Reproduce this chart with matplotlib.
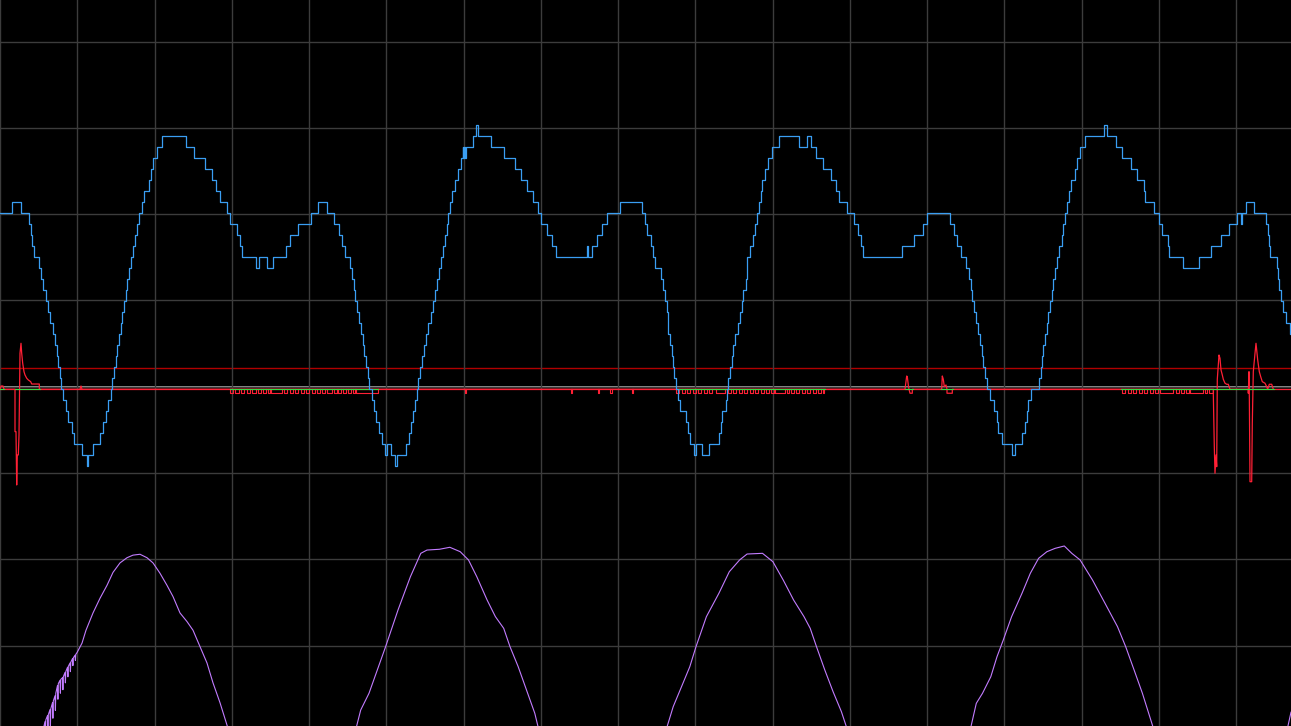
import numpy as np
import matplotlib
matplotlib.use("Agg")
import matplotlib.pyplot as plt

# ─── Scope settings ───────────────────────────────────────────────────────────
FS_KHZ        = 15.45        # samples per ms (screen is 1 sample per pixel)
MS_PER_DIV    = 5.0
N_SAMPLES     = 1291
Y_TOP, Y_BOT  = 4.482, -3.931   # visible range in divisions

BLUE_TOP      = 2.906        # position of blue code 0 (div)
BLUE_LSB      = 0.1275       # one quantisation step (div)
RED_OFFSET    = -0.029       # red channel zero (div)
TRIG_LEVEL    = 0.221        # trigger marker (div)
PURPLE_OFFSET = -3.931       # purple channel zero (div)
DIP_DEPTH     = -0.046       # depth of the red logic dips (div)

BG      = '#000000'
GRID    = '#3c3c3c'
CENTER  = '#b4b4b4'
BLUE    = '#3a9ef2'
RED     = '#ff2035'
DKRED   = '#b00000'
GREEN   = '#33dd44'
PURPLE  = '#c27cff'

# ─── Data ─────────────────────────────────────────────────────────────────────
# blue: (sample where step starts, steps below full scale)
BLUE_STEPS = [
    (0, 7), (12, 6), (21.3, 7), (29.3, 8), (31, 9), (32.3, 10), (34.3, 11), (39.3, 12),
    (41.3, 13), (43.3, 14), (45.7, 15), (48.3, 16), (50.3, 17), (52.7, 18), (54.7, 19),
    (56.7, 20), (58.3, 21), (59.7, 22), (61, 23), (63.3, 24), (65.7, 25), (68.3, 26),
    (71.7, 27), (74, 28), (82.3, 29), (87.3, 30), (88.3, 29), (93.3, 28), (100, 27),
    (103.3, 26), (105.7, 25), (108, 24), (110.7, 23), (112.3, 22), (114, 21), (115.7, 20),
    (117.3, 19), (119, 18), (120.7, 17), (122.3, 16), (124, 15), (125.7, 14), (127.3, 13),
    (129, 12), (131, 11), (133, 10), (135, 9), (137, 8), (139.3, 7), (141.7, 6), (144.3, 5),
    (149.3, 4), (151.3, 3), (153.3, 2), (156.7, 1), (162.3, 0), (186.3, 1), (194.3, 2),
    (205, 3), (212.3, 4), (216, 5), (220, 6), (226.7, 7), (230, 8), (236.7, 9), (240, 10),
    (242.3, 11), (256, 12), (259.3, 11), (266.7, 12), (272.7, 11), (285.7, 10), (290, 9),
    (298.3, 8), (311, 7), (318.3, 6), (327.3, 7),
    (334.3, 8), (339.3, 9), (341.7, 10), (344.7, 11), (350.3, 12), (352, 13), (353.7, 14),
    (355.3, 15), (357.3, 16), (359, 17), (361, 18), (362.7, 19), (364.3, 20), (366, 21),
    (367.7, 22), (369.3, 23), (371.7, 24), (374, 25), (376.3, 26), (378.7, 27), (381.7, 28),
    (385, 29), (386.7, 28), (391, 29), (395.3, 30), (397, 29), (406, 28), (409, 27),
    (411, 26), (413, 25), (415, 24), (416.7, 23), (418.3, 22), (420, 21), (422, 20),
    (424.3, 19), (426.3, 18), (428.3, 17), (431, 16), (433.3, 15), (435.3, 14), (437.3, 13),
    (439, 12), (441, 11), (443, 10), (445, 9), (446.7, 8), (448.3, 7), (450.3, 6),
    (452.3, 5), (455, 4), (457.7, 3), (461, 2), (462.7, 1), (463.3, 2), (464.3, 1),
    (465, 2), (466, 1), (472.7, 0), (476, -1), (478, 0), (490.7, 1), (504.3, 2), (515, 3),
    (521, 4), (527, 5), (533, 6), (538.3, 7), (541, 8), (546.7, 9), (551.7, 10), (556, 11),
    (587.3, 10), (588.3, 11), (591.7, 10), (596.7, 9), (601.7, 8), (606.7, 7), (619.5, 6),
    (641.5, 7), (645.3, 8), (647.3, 9), (650.7, 10), (652.7, 11), (655, 12), (660.5, 13),
    (663.3, 14), (665, 15), (666.7, 16), (667.7, 17), (668.3, 18), (670, 19), (671.7, 20),
    (673.3, 21), (674.3, 22), (676, 23), (678.3, 24), (680, 25), (685.7, 26), (688.3, 27),
    (690, 28), (694, 29), (695.7, 28), (702.3, 29), (709, 28), (719, 27), (720.7, 26),
    (722.3, 25), (725.7, 24), (726.7, 23), (728.3, 22), (730, 21), (731.7, 20), (733.3, 19),
    (735, 18), (738.3, 17), (740, 16), (741.7, 15), (743.3, 14), (746, 13), (746.7, 12),
    (747.3, 11), (750, 10), (753.3, 9), (755, 8), (756.7, 7), (759, 6), (760.7, 5),
    (761.7, 4), (765, 3), (768.3, 2), (772.3, 1), (779.3, 0), (799.3, 1), (806.7, 0),
    (810.7, 1), (815.7, 2), (822.7, 3), (830.7, 4), (835.7, 5), (839.3, 6), (846.7, 7),
    (854, 8), (858.3, 9), (861, 10), (863.3, 11), (901.7, 10), (914, 9), (922.7, 8),
    (926.7, 7), (950, 8), (954, 9), (957.3, 10), (960.7, 11), (966, 12), (969.3, 13),
    (970.7, 14), (972.3, 15), (974, 16), (975.7, 17), (978.3, 18), (980, 19), (981.7, 20),
    (983.3, 21), (985, 22), (986.7, 23), (990, 24), (994.3, 25), (996.7, 26), (998.3, 27),
    (1001.7, 28), (1011.7, 29), (1015, 28), (1022.3, 27), (1025, 26), (1026.7, 25),
    (1028.3, 24), (1030.7, 23), (1039.3, 22), (1040.7, 21), (1042.3, 20), (1043.3, 19),
    (1045, 18), (1046.7, 17), (1048.3, 16), (1050, 15), (1051.7, 14), (1053.3, 13),
    (1055, 12), (1056.7, 11), (1059, 10), (1061.7, 9), (1063.3, 8), (1065, 7), (1066.7, 6),
    (1069.3, 5), (1071, 4), (1075, 3), (1076.7, 2), (1080, 1), (1085, 0), (1104, -1),
    (1106.7, 0), (1115.7, 1), (1121.7, 2), (1130.7, 3), (1136.7, 4), (1144, 5), (1145.3, 6),
    (1154, 7), (1159, 8), (1161.7, 9), (1167.7, 10), (1169.3, 11), (1183.3, 12),
    (1199.3, 11), (1210.7, 10), (1220.7, 9), (1229.3, 8), (1236.7, 7), (1241, 8),
    (1241.7, 7), (1246, 6), (1254, 7), (1266, 8), (1268.3, 9), (1269.3, 10), (1270, 11),
    (1276.7, 12), (1278.3, 13), (1279.3, 14), (1281, 15), (1282.7, 16), (1286, 17),
    (1290, 18), (1291, 18),
]

# red analog events: (sample, div above red zero)
RED_POINTS = [
    (0, 0), (1, 0.038), (3, 0.038), (4, 0), (15, 0), (15, -0.491), (16, -0.491),
    (16.7, -1.109), (17.3, -0.761), (18.3, -0.761), (19, -0.530), (20, 0.417), (21, 0.533),
    (21.7, 0.417), (22.7, 0.301), (24, 0.204), (25, 0.166), (26.7, 0.128), (28.3, 0.108),
    (30.7, 0.088), (31.7, 0.061), (39.3, 0.061), (39.3, 0), (80, 0), (81, 0.038), (82, 0),
    (905, 0), (906.7, 0.154), (907.3, 0.146), (908.3, 0.050), (909, 0), (910, -0.046),
    (912.3, -0.046), (912.3, 0), (941.7, 0), (942.3, 0.154), (943.3, 0.116), (944.3, 0.030),
    (946, 0.050), (947, 0), (947, -0.046), (952.3, -0.046), (952.3, 0), (1213.3, 0),
    (1213.3, -0.046), (1214.3, -0.665), (1215, -0.973), (1216, -0.761), (1216.7, -0.897),
    (1217.3, 0.116), (1219, 0.397), (1220, 0.359), (1221, 0.224), (1222.3, 0.166),
    (1223.3, 0.116), (1225, 0.070), (1226.7, 0.058), (1228.3, 0.058), (1230, 0),
    (1248.3, 0), (1248.3, -0.046), (1249, 0.204), (1249.3, -0.046), (1250, -1.071),
    (1251.7, -1.071), (1252.3, -0.394), (1253.3, 0.204), (1255, 0.417), (1256, 0.533),
    (1256.7, 0.455), (1257.7, 0.340), (1259.3, 0.204), (1260.7, 0.146), (1262.3, 0.088),
    (1265, 0.070), (1266.7, 0.030), (1267.7, 0), (1269.3, 0.058), (1271.7, 0.058),
    (1273.3, 0),
]

# red logic-style dips: (start sample, end sample)
RED_DIPS = [
    (230, 233), (235, 238.5), (241, 244), (246.5, 249.5), (252, 255.5), (258, 261),
    (263, 266), (268, 269.5), (271, 282), (284, 287), (289.5, 292.5), (295, 298),
    (300.5, 303.5), (306, 309), (311.5, 314.5), (317, 320), (322, 325), (327, 332),
    (334, 336.5), (338, 340.5), (343, 346), (348, 351), (352.5, 354.5), (356, 377.7),
    (465.3, 466.3), (570.5, 571.7), (598.3, 599.3), (610.3, 611.5), (632, 633.3),
    (676, 679), (681.5, 684.5), (687, 690), (692.5, 695.5), (698, 701), (703.5, 706.5),
    (709, 712), (716, 725), (727.5, 730.5), (733, 736), (738.5, 741.5), (744, 747),
    (749.5, 752.5), (755, 758), (760.5, 763.5), (766, 769), (771, 773.5), (775, 785),
    (787, 789), (790.5, 793.5), (796, 799), (801.5, 804.5), (807, 810), (812.5, 815.5),
    (818, 821), (822.5, 824.3),
    (1122, 1125), (1127.5, 1130.5), (1133, 1136), (1138.5, 1141.5), (1144, 1147),
    (1149.5, 1152.5), (1155, 1158), (1160, 1173.3), (1175.5, 1178.5), (1180.5, 1183.5),
    (1185.5, 1188.5), (1190, 1203.3), (1205, 1207), (1208.5, 1213.3),
]

GREEN_SPANS = [(0, 4), (15, 40), (230, 378), (676, 825), (905, 913), (941, 953), (1121, 1274)]

# purple: one list per visible hump, (sample, div above purple zero)
PURPLE_HUMPS = [
    [(43, -0.05), (45, 0.05), (45.4, -0.13), (45.8, 0.07),
     (47.5, 0.12), (47.9, -0.07), (48.3, 0.13), (50, 0.19), (50.4, 0.0), (50.8, 0.20),
     (52.5, 0.27), (52.9, 0.09), (53.3, 0.29), (55, 0.35), (55.4, 0.18), (55.8, 0.38),
     (57.5, 0.47), (57.9, 0.31), (58.3, 0.49), (60, 0.53), (60.4, 0.38), (60.8, 0.54),
     (62.5, 0.56), (62.9, 0.42), (63.3, 0.57), (65, 0.62), (65.4, 0.50), (65.8, 0.63),
     (67.5, 0.68), (67.9, 0.57), (68.3, 0.69), (70, 0.73), (70.4, 0.63), (70.8, 0.74),
     (72.5, 0.78), (72.9, 0.70), (73.3, 0.79), (75, 0.82), (75.4, 0.76), (75.8, 0.83),
     (77, 0.85), (82, 0.96),
     (86, 1.11), (93, 1.31), (100, 1.48), (107, 1.63), (113, 1.78), (120, 1.89),
     (127, 1.95), (133, 1.98), (140, 1.99), (147, 1.95), (153, 1.89), (160, 1.77),
     (167, 1.63), (173, 1.50), (180, 1.31), (187, 1.21), (193, 1.11), (200, 0.92),
     (207, 0.73), (213, 0.50), (220, 0.27), (227, 0.01), (229, -0.06)],
    [(356, -0.03), (360.7, 0.185), (369, 0.379), (377.3, 0.649), (385.6, 0.919),
     (398, 1.344), (410.4, 1.730), (420.8, 2.001), (427, 2.039), (439.5, 2.048),
     (449.8, 2.071), (460.2, 2.020), (468.5, 1.924), (476.8, 1.730), (487.1, 1.460),
     (495.4, 1.267), (503.7, 1.132), (510, 0.919), (518.2, 0.687), (526.5, 0.417),
     (534.8, 0.147), (538.5, -0.03)],
    [(666.5, -0.03), (673.2, 0.224), (681.5, 0.455), (689.8, 0.687), (696, 0.919),
     (706.4, 1.267), (718.9, 1.538), (729.3, 1.788), (739.6, 1.924), (747.1, 1.993),
     (762.5, 2.001), (772.9, 1.904), (783.2, 1.692), (793.6, 1.460), (804, 1.267),
     (810.2, 1.132), (816.5, 0.919), (824.8, 0.649), (833.1, 0.397), (841.4, 0.166),
     (847, -0.03)],
    [(970.5, -0.03), (976.3, 0.263), (982.5, 0.379), (990.8, 0.571), (997, 0.803),
     (1003.3, 0.997), (1011.6, 1.267), (1022, 1.538), (1030.3, 1.769), (1038.6, 1.943),
     (1046.9, 2.020), (1055.2, 2.059), (1064.3, 2.086), (1071.8, 2.001), (1080.1, 1.924),
     (1092.5, 1.692), (1105, 1.422), (1117.5, 1.151), (1125.7, 0.919), (1134.1, 0.649),
     (1142.4, 0.379), (1153.5, -0.03)],
    [(1287, -0.05), (1291, 0.16)],
]

# ─── Plot ─────────────────────────────────────────────────────────────────────
fig = plt.figure(figsize=(12.91, 7.26), dpi=100, facecolor=BG)
ax = fig.add_axes([0, 0, 1, 1])
ax.set_facecolor(BG)
ax.set_xlim(0, N_SAMPLES / FS_KHZ)
ax.set_ylim(Y_BOT, Y_TOP)

ax.set_xticks(np.arange(0, N_SAMPLES / FS_KHZ, MS_PER_DIV))
ax.set_yticks(np.arange(-3, 5))
ax.grid(True, color=GRID, lw=1.0, zorder=0)
ax.tick_params(length=0, labelbottom=False, labelleft=False)
for s in ax.spines.values():
    s.set_visible(False)

ax.axhline(0, color=CENTER, lw=1.2, zorder=1)
ax.axhline(TRIG_LEVEL, color=DKRED, lw=1.0, zorder=1)
ax.axhline(RED_OFFSET, color=RED, lw=0.9, zorder=2)

# red dips
dx, dy = [], []
for a, b in RED_DIPS:
    dx += [a, a, b, b, np.nan]
    dy += [0, DIP_DEPTH, DIP_DEPTH, 0, np.nan]
dx = np.array(dx) / FS_KHZ
dy = np.array(dy) + RED_OFFSET
ax.plot(dx, dy, color=RED, lw=0.8, zorder=3)

rx, ry = zip(*RED_POINTS)
ax.plot(np.array(rx) / FS_KHZ, np.array(ry) + RED_OFFSET, color=RED, lw=0.9, zorder=3)

for a, b in GREEN_SPANS:
    ax.plot([a / FS_KHZ, b / FS_KHZ], [RED_OFFSET, RED_OFFSET], color=GREEN, lw=0.8, zorder=4)

bx, bk = zip(*BLUE_STEPS)
ax.plot(np.array(bx) / FS_KHZ, BLUE_TOP - BLUE_LSB * np.array(bk),
        drawstyle='steps-post', color=BLUE, lw=0.9, zorder=5)

for hump in PURPLE_HUMPS:
    px, pv = zip(*hump)
    ax.plot(np.array(px) / FS_KHZ, np.array(pv) + PURPLE_OFFSET, color=PURPLE, lw=0.8, zorder=5)

fig.savefig('out.png', dpi=100, facecolor=BG)
